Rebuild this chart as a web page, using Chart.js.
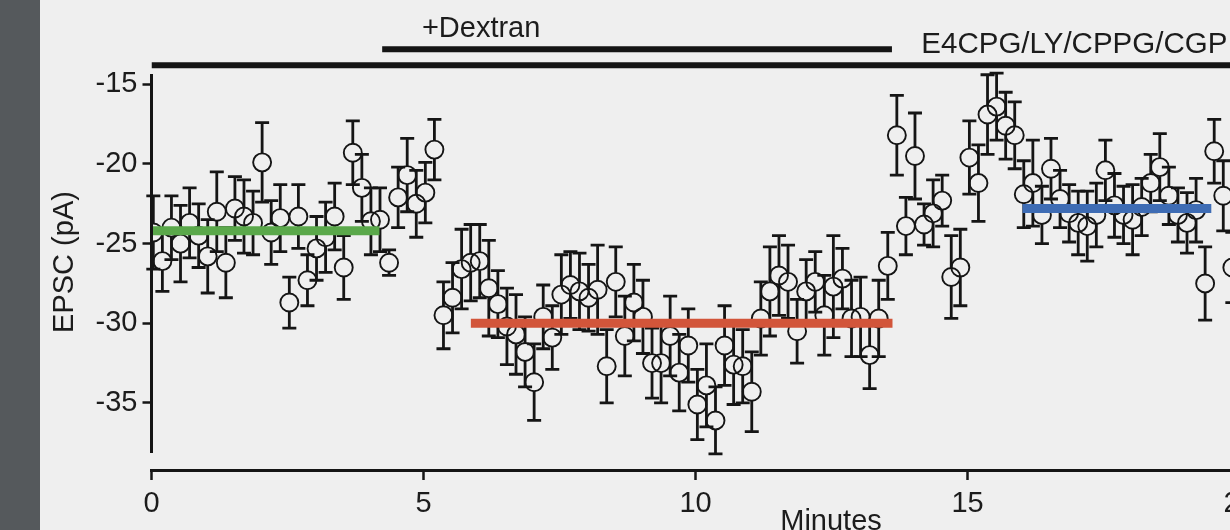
<!DOCTYPE html>
<html>
<head>
<meta charset="utf-8">
<script src="https://cdn.jsdelivr.net/npm/chart.js@4/dist/chart.umd.min.js"></script>
<style>
  html, body { margin: 0; padding: 0; width: 1230px; height: 530px; overflow: hidden; background: #efefef; }
  #band { position: absolute; left: 0; top: 0; width: 40px; height: 530px; background: #55595c; }
  #c { position: absolute; left: 40px; top: 0; }
</style>
</head>
<body>
<div id="band"></div>
<canvas id="c" width="1254" height="530"></canvas>
<script>
// ---- data ----
const SAMPLE_TIME_S = [
  2, 12, 22, 32, 42, 52, 62, 72, 82, 92,
  102, 112, 122, 132, 142, 152, 162, 172, 182, 192,
  202, 212, 222, 232, 242, 252, 262, 272, 282, 292,
  302, 312, 322, 332, 342, 352, 362, 372, 382, 392,
  402, 412, 422, 432, 442, 452, 462, 472, 482, 492,
  502, 512, 522, 532, 542, 552, 562, 572, 582, 592,
  602, 612, 622, 632, 642, 652, 662, 672, 682, 692,
  702, 712, 722, 732, 742, 752, 762, 772, 782, 792,
  802, 812, 822, 832, 842, 852, 862, 872, 882, 892,
  902, 912, 922, 932, 942, 952, 962, 972, 982, 992,
  1002, 1012, 1022, 1032, 1042, 1052, 1062, 1072, 1082, 1092,
  1102, 1112, 1122, 1132, 1142, 1152, 1162, 1172, 1182, 1192
];
const EPSC_MEAN = [
  -24.3, -26.1, -24.0, -25.0, -23.7, -24.5, -25.8, -23.0, -26.2, -22.8,
  -23.3, -23.7, -19.9, -24.3, -23.4, -28.7, -23.3, -27.3, -25.3, -24.6,
  -23.3, -26.5, -19.3, -21.5, -23.6, -23.5, -26.2, -22.1, -20.7, -22.5,
  -21.8, -19.1, -29.5, -28.4, -26.6, -26.2, -26.1, -27.8, -28.8, -30.2,
  -30.7, -31.8, -33.7, -29.6, -30.9, -28.2, -27.6, -28.0, -28.4, -27.9,
  -32.7, -27.4, -30.8, -28.7, -29.6, -32.5, -32.5, -30.8, -33.1, -31.4,
  -35.1, -33.9, -36.1, -31.4, -32.6, -32.7, -34.3, -29.7, -28.0, -27.0,
  -27.4, -30.5, -28.0, -27.4, -29.5, -27.7, -27.2, -29.7, -29.6, -32.0,
  -29.7, -26.4, -18.2, -23.9, -19.5, -23.8, -23.1, -22.3, -27.1, -26.5,
  -19.6, -21.2, -16.9, -16.4, -17.6, -18.2, -21.9, -21.2, -23.2, -20.3,
  -22.2, -23.1, -23.7, -23.9, -23.2, -20.4, -22.6, -23.2, -23.5, -22.7,
  -21.2, -20.2, -22.0, -23.2, -23.7, -22.9, -27.5, -19.2, -22.0, -26.5
];
const EPSC_SEM = [
  2.3, 1.9, 2.0, 2.4, 2.2, 2.0, 2.3, 2.5, 2.2, 2.0,
  2.3, 2.0, 2.5, 2.0, 2.1, 1.6, 2.0, 1.6, 2.0, 2.2,
  2.1, 2.0, 2.0, 2.1, 2.1, 2.0, 0.8, 1.9, 2.3, 2.1,
  1.9, 1.9, 2.1, 2.2, 2.5, 2.4, 2.3, 3.0, 2.1, 2.4,
  2.5, 2.2, 2.4, 2.0, 2.0, 2.5, 2.1, 2.4, 2.1, 2.8,
  2.3, 2.2, 2.5, 2.4, 2.3, 2.2, 2.5, 2.5, 2.4, 2.3,
  2.2, 2.6, 2.1, 2.5, 2.5, 2.3, 2.5, 2.3, 2.8, 2.5,
  2.3, 2.0, 2.0, 1.9, 2.5, 3.2, 1.9, 2.4, 2.5, 2.1,
  2.4, 2.1, 2.5, 1.8, 2.7, 1.3, 2.1, 1.6, 2.6, 2.4,
  2.3, 2.4, 2.5, 2.1, 2.1, 2.1, 2.1, 2.7, 1.8, 1.9,
  1.8, 1.8, 2.0, 2.2, 2.0, 1.9, 2.0, 1.8, 2.2, 1.8,
  1.8, 2.1, 1.8, 1.7, 1.9, 2.0, 2.3, 2.0, 2.2, 2.2
];
const X_TICKS = [0, 5, 10, 15, 20];
const Y_TICKS = [-15, -20, -25, -30, -35];
const FIT_BASELINE = [0, 4.19, -24.2];     // [from min, to min, pA]
const FIT_DEXTRAN = [5.87, 13.62, -30.0];
const FIT_ANTAG = [16.01, 19.48, -22.8];
const BAR_DEXTRAN = [4.24, 13.61, -12.8];   // application bars
const BAR_ANTAG = [0, 21, -13.81];
const LABEL_DEXTRAN = '+Dextran';
const LABEL_ANTAG = 'E4CPG/LY/CPPG/CGP';
const Y_AXIS_SPAN = [-14.35, -38.15];

// ---- styles ----
const FONT = "'Liberation Sans', Arial, Helvetica, sans-serif";
const INK = '#151515';

const points = SAMPLE_TIME_S.map((s, i) => ({ x: s / 60, y: EPSC_MEAN[i] }));
const seg = (a) => [{ x: a[0], y: a[2] }, { x: a[1], y: a[2] }];

const errorBars = {
  id: 'errorBars',
  beforeDatasetsDraw(chart) {
    const { ctx, scales: { x, y } } = chart;
    const r = 9, cap = 7;
    ctx.save();
    ctx.strokeStyle = INK;
    ctx.lineWidth = 2.8;
    ctx.lineCap = 'butt';
    SAMPLE_TIME_S.forEach((s, i) => {
      const px = x.getPixelForValue(s / 60);
      const pc = y.getPixelForValue(EPSC_MEAN[i]);
      const pt = y.getPixelForValue(EPSC_MEAN[i] + EPSC_SEM[i]);
      const pb = y.getPixelForValue(EPSC_MEAN[i] - EPSC_SEM[i]);
      ctx.beginPath();
      if (pc - r > pt) { ctx.moveTo(px, pt); ctx.lineTo(px, pc - r); }
      if (pc + r < pb) { ctx.moveTo(px, pc + r); ctx.lineTo(px, pb); }
      ctx.moveTo(px - cap, pt); ctx.lineTo(px + cap, pt);
      ctx.moveTo(px - cap, pb); ctx.lineTo(px + cap, pb);
      ctx.stroke();
    });
    ctx.restore();
  }
};

const decor = {
  id: 'decor',
  afterDraw(chart) {
    const { ctx, scales: { x, y } } = chart;
    ctx.save();
    // y axis line (does not reach the x axis)
    ctx.strokeStyle = INK;
    ctx.lineWidth = 3;
    ctx.beginPath();
    const ax = x.getPixelForValue(0);
    ctx.moveTo(ax, y.getPixelForValue(Y_AXIS_SPAN[0]));
    ctx.lineTo(ax, y.getPixelForValue(Y_AXIS_SPAN[1]));
    ctx.stroke();
    // texts
    ctx.fillStyle = '#1c1c1c';
    ctx.font = '29px ' + FONT;
    ctx.textBaseline = 'alphabetic';
    ctx.textAlign = 'left';
    ctx.fillText(LABEL_DEXTRAN, x.getPixelForValue(4.97), 36.7);
    ctx.font = '29.5px ' + FONT;
    ctx.fillText(LABEL_ANTAG, x.getPixelForValue(14.15), 53);
    ctx.font = '29px ' + FONT;
    ctx.textAlign = 'center';
    ctx.fillText('Minutes', x.getPixelForValue(12.49), 530);
    ctx.translate(33, 262);
    ctx.rotate(-Math.PI / 2);
    ctx.fillText('EPSC (pA)', 0, 0);
    ctx.restore();
  }
};

const lineDs = (data, color, width, order) => ({
  type: 'line', data, borderColor: color, borderWidth: width, pointRadius: 0,
  showLine: true, borderCapStyle: 'butt', fill: false, order
});

new Chart(document.getElementById('c'), {
  type: 'scatter',
  data: {
    datasets: [
      lineDs(seg(FIT_BASELINE), '#5aa84a', 9, 0),
      lineDs(seg(FIT_DEXTRAN), '#d2553a', 9, 1),
      lineDs(seg(FIT_ANTAG), '#3e6cb4', 9, 2),
      lineDs(seg(BAR_DEXTRAN), INK, 6, 3),
      lineDs(seg(BAR_ANTAG), INK, 6, 4),
      {
        data: points, order: 10,
        pointStyle: 'circle', pointRadius: 9, pointBorderWidth: 1.9,
        borderColor: INK, backgroundColor: 'rgba(0,0,0,0)',
        pointBorderColor: INK, pointBackgroundColor: 'rgba(0,0,0,0)', showLine: false
      }
    ]
  },
  options: {
    responsive: false, animation: false, devicePixelRatio: 1,
    layout: { padding: 0, autoPadding: false },
    plugins: { legend: { display: false }, tooltip: { enabled: false } },
    scales: {
      x: {
        type: 'linear', min: 0, max: 21,
        afterFit(s) { s.height = 60; s.paddingLeft = 0; s.paddingRight = 0; },
        afterBuildTicks(s) { s.ticks = X_TICKS.map(v => ({ value: v })); },
        border: { display: true, color: INK, width: 3 },
        grid: { drawOnChartArea: false, drawTicks: true, tickLength: 10, tickWidth: 2.5, tickColor: INK },
        ticks: { font: { family: FONT, size: 29 }, color: '#1c1c1c', padding: 7, maxRotation: 0, autoSkip: false }
      },
      y: {
        type: 'linear', min: -39.212, max: -9.708,
        afterFit(s) { s.width = 111.5; s.paddingTop = 0; s.paddingBottom = 0; },
        afterBuildTicks(s) { s.ticks = Y_TICKS.map(v => ({ value: v })); },
        border: { display: false },
        grid: { drawOnChartArea: false, drawTicks: true, tickLength: 9, tickWidth: 2.5, tickColor: INK },
        ticks: { font: { family: FONT, size: 29 }, color: '#1c1c1c', padding: 5 }
      }
    }
  },
  plugins: [errorBars, decor]
});
</script>
</body>
</html>
